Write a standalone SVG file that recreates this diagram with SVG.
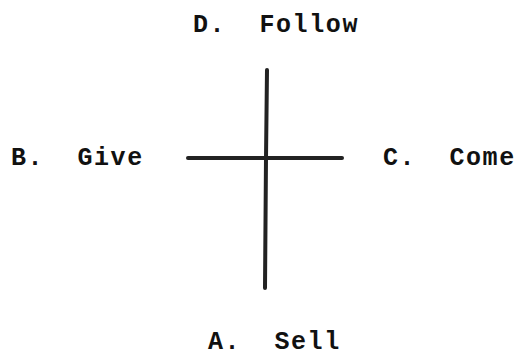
<svg xmlns="http://www.w3.org/2000/svg" width="521" height="357" viewBox="0 0 521 357">
<style>
.lbl{font-family:"Liberation Mono","Courier New",monospace;font-weight:bold;font-size:25px;letter-spacing:1.6px;fill:#111;white-space:pre}
.bar{stroke:#222;stroke-width:4;stroke-linecap:round;fill:none}
</style>
<rect width="521" height="357" fill="#fff"/>
<g id="connectors">
<path class="bar" d="M267,70 L266,158 L265,288"/>
<path class="bar" d="M188,158 L342,158"/>
</g>
<g id="nodeD"><text class="lbl" x="193" y="32" xml:space="preserve">D.  Follow</text></g>
<g id="nodeB"><text class="lbl" x="11" y="165" xml:space="preserve">B.  Give</text></g>
<g id="nodeC"><text class="lbl" x="383" y="165" xml:space="preserve">C.  Come</text></g>
<g id="nodeA"><text class="lbl" x="208" y="349" xml:space="preserve">A.  Sell</text></g>
</svg>
